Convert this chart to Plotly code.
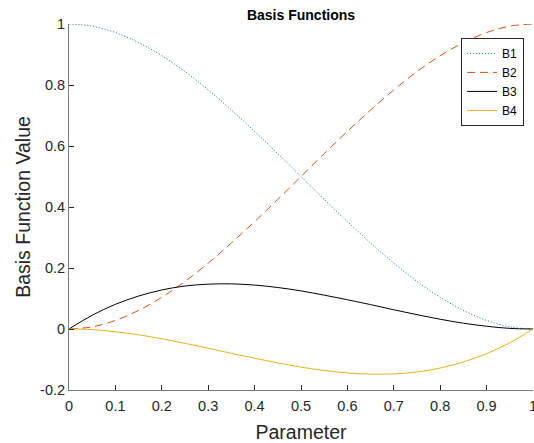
import plotly.graph_objects as go

t = [0, 0.05, 0.1, 0.15, 0.2, 0.25, 0.3, 0.35, 0.4, 0.45, 0.5,
     0.55, 0.6, 0.65, 0.7, 0.75, 0.8, 0.85, 0.9, 0.95, 1]
b1 = [1.000, 0.993, 0.972, 0.939, 0.896, 0.844, 0.784, 0.718, 0.648, 0.575, 0.500,
      0.425, 0.352, 0.282, 0.216, 0.156, 0.104, 0.061, 0.028, 0.007, 0.000]
b2 = [0.000, 0.007, 0.028, 0.061, 0.104, 0.156, 0.216, 0.282, 0.352, 0.425, 0.500,
      0.575, 0.648, 0.718, 0.784, 0.844, 0.896, 0.939, 0.972, 0.993, 1.000]
b3 = [0.000, 0.045, 0.081, 0.108, 0.128, 0.141, 0.147, 0.148, 0.144, 0.136, 0.125,
      0.111, 0.096, 0.080, 0.063, 0.047, 0.032, 0.019, 0.009, 0.002, 0.000]
b4 = [0.000, -0.002, -0.009, -0.019, -0.032, -0.047, -0.063, -0.080, -0.096, -0.111, -0.125,
      -0.136, -0.144, -0.148, -0.147, -0.141, -0.128, -0.108, -0.081, -0.045, 0.000]

names = ["B1", "B2", "B3", "B4"]
colors = ["#0072BD", "#D95319", "#000000", "#EDB120"]
dashes = ["1px,2px", "8px,5px", "solid", "solid"]
widths = [1, 1, 1, 1]

fig = go.Figure()
for name, ys, c, d, w in zip(names, [b1, b2, b3, b4], colors, dashes, widths):
    fig.add_trace(go.Scatter(x=t, y=ys, mode="lines", name=name, cliponaxis=False,
                             line=dict(color=c, dash=d, width=w, shape="spline")))

font = "Liberation Sans, Arial, Helvetica, sans-serif"
axis_common = dict(showgrid=False, zeroline=False, showline=True, linecolor="#7a7a7a",
                   linewidth=1, ticks="inside", ticklen=5, tickcolor="#262626",
                   automargin=False, ticklabeloverflow="allow",
                   tickfont=dict(size=14.5, color="#262626", family=font))

fig.update_layout(
    width=534, height=443,
    margin=dict(l=69, r=1, t=24, b=53),
    paper_bgcolor="white", plot_bgcolor="white",
    title=dict(text="<b>Basis Functions</b>", x=0.5637, xanchor="center", y=0.967, yanchor="middle",
               font=dict(size=14, color="#000000", family=font)),
    font=dict(family=font, color="#262626"),
    legend=dict(x=0.845, y=0.962, xanchor="left", yanchor="top",
                bordercolor="#262626", borderwidth=1, bgcolor="white",
                font=dict(size=12, color="#000000", family=font),
                itemwidth=30, tracegroupgap=0),
    showlegend=True,
)
fig.update_xaxes(range=[0, 1], tickvals=[i / 10 for i in range(11)],
                 ticktext=["0", "0.1", "0.2", "0.3", "0.4", "0.5", "0.6", "0.7", "0.8", "0.9", "1"],
                 ticklabelstandoff=3,
                 title=dict(text="Parameter", font=dict(size=19.5, color="#262626", family=font), standoff=12),
                 **axis_common)
fig.update_yaxes(range=[-0.2, 1], tickvals=[-0.2, 0, 0.2, 0.4, 0.6, 0.8, 1],
                 ticktext=["-0.2", "0", "0.2", "0.4", "0.6", "0.8", "1"],
                 title=dict(text="Basis Function Value", font=dict(size=19.5, color="#262626", family=font), standoff=4),
                 **axis_common)

fig.write_html("out.html", config={"displayModeBar": False},
               post_script="document.body.style.margin='0';document.body.style.overflow='hidden';")
